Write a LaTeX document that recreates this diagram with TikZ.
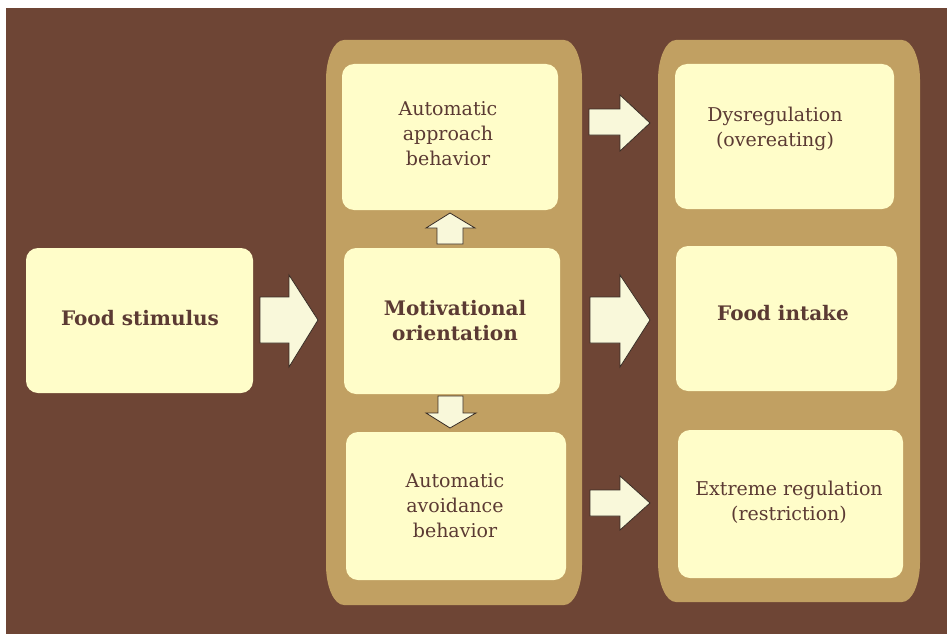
\documentclass[tikz,border=0pt]{standalone}
\usepackage{fontspec}
\setmainfont{DejaVu Serif}
\definecolor{bgbrown}{HTML}{6E4535}
\definecolor{tan}{HTML}{C1A062}
\definecolor{cream}{HTML}{FFFDC9}
\definecolor{arrowfill}{HTML}{F9F8DA}
\definecolor{arrowline}{HTML}{3A2E26}
\definecolor{txt}{HTML}{5B3A33}
\begin{document}
\begin{tikzpicture}[x=1pt,y=-1pt,
  box/.style={fill=cream, rounded corners=12pt, draw=none},
  lbl/.style={text=txt, align=center, font=\fontsize{19}{25}\selectfont},
  blbl/.style={text=txt, align=center, font=\fontsize{20}{25}\selectfont\bfseries},
  blockarrow/.style={fill=arrowfill, draw=arrowline, line width=0.8pt, line join=miter},
  column/.style={fill=tan}]
\useasboundingbox (0,0) rectangle (947,634);
\fill[bgbrown] (6,8) rectangle (947,634);
% columns
\fill[column] (326,80) arc[start angle=180,end angle=270,x radius=18,y radius=40] -- (564,40)
  arc[start angle=270,end angle=360,x radius=18,y radius=40] -- (582,565)
  arc[start angle=0,end angle=90,x radius=18,y radius=40] -- (344,605)
  arc[start angle=90,end angle=180,x radius=18,y radius=40] -- cycle;
\fill[column] (658,80) arc[start angle=180,end angle=270,x radius=18,y radius=40] -- (902,40)
  arc[start angle=270,end angle=360,x radius=18,y radius=40] -- (920,562)
  arc[start angle=0,end angle=90,x radius=18,y radius=40] -- (676,602)
  arc[start angle=90,end angle=180,x radius=18,y radius=40] -- cycle;
% boxes
\path[box] (26,248) rectangle (253,393) node[pos=.5] (food) {};
\path[box] (342,64) rectangle (558,210) node[pos=.5] (appr) {};
\path[box] (344,248) rectangle (560,394) node[pos=.5] (motiv) {};
\path[box] (346,432) rectangle (566,580) node[pos=.5] (avoid) {};
\path[box] (675,64) rectangle (894,209) node[pos=.5] (dys) {};
\path[box] (676,246) rectangle (897,391) node[pos=.5] (intake) {};
\path[box] (678,430) rectangle (903,578) node[pos=.5] (extr) {};
% labels
\node[blbl] (tfood) at (140,318) {Food stimulus};
\node[lbl] (tappr) at (448,134) {Automatic\\approach\\behavior};
\node[blbl] (tmotiv) at (455,321) {Motivational\\orientation};
\node[lbl] (tavoid) at (455,506) {Automatic\\avoidance\\behavior};
\node[lbl] (tdys) at (775,129) {Dysregulation\\(overeating)};
\node[blbl] (tintake) at (783,313) {Food intake};
\node[lbl] (textr) at (789,502) {Extreme regulation\\(restriction)};
% block arrows
\draw[blockarrow] (260,297) -- (289,297) -- (289,275) -- (318,320) -- (289,367) -- (289,343) -- (260,343) -- cycle;
\draw[blockarrow] (590,297) -- (620,297) -- (620,275) -- (650,320) -- (620,367) -- (620,343) -- (590,343) -- cycle;
\draw[blockarrow] (589,109) -- (620,109) -- (620,95) -- (650,123) -- (620,151) -- (620,135) -- (589,135) -- cycle;
\draw[blockarrow] (590,490) -- (620,490) -- (620,476) -- (650,503) -- (620,530) -- (620,516) -- (590,516) -- cycle;
\draw[blockarrow] (437,244) -- (437,228) -- (426,228) -- (450,213) -- (475,228) -- (463,228) -- (463,244) -- cycle;
\draw[blockarrow] (438,396) -- (438,413) -- (426,413) -- (450,428) -- (476,413) -- (463,413) -- (463,396) -- cycle;
\end{tikzpicture}
\end{document}
